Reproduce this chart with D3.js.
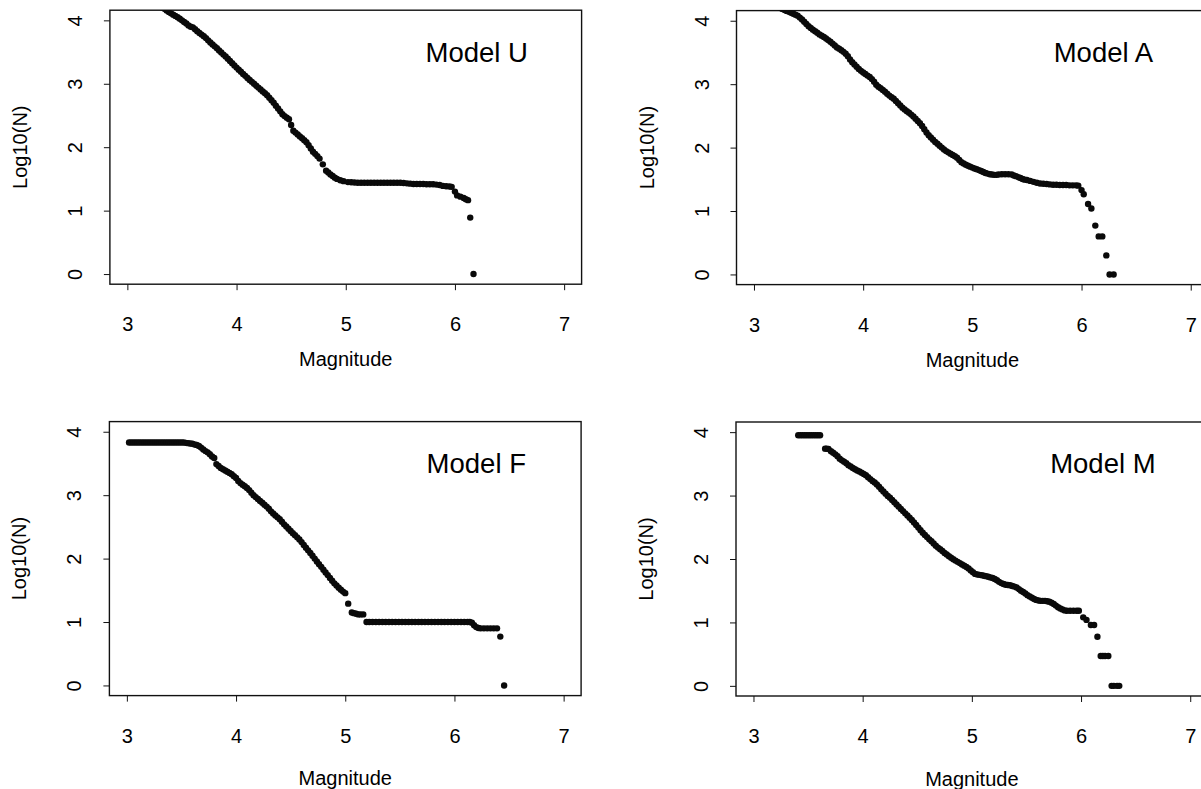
<!DOCTYPE html>
<html>
<head>
<meta charset="utf-8">
<script src="https://cdn.jsdelivr.net/npm/d3@7"></script>
<style>
  body { margin: 0; background: #fff; }
  svg { display: block; font-family: "Liberation Sans", Arial, Helvetica, sans-serif; }
</style>
</head>
<body>
<div id="chart"></div>
<script>
// values (magnitude, log10 of cumulative count)
const magU = [3.30,3.32,3.34,3.36,3.38,3.40,3.42,3.44,3.46,3.48,3.50,3.52,3.54,3.56,3.58,3.60,3.62,3.64,3.66,3.68,
  3.70,3.72,3.74,3.76,3.78,3.80,3.82,3.84,3.86,3.88,3.90,3.92,3.94,3.96,3.98,4.00,4.02,4.04,4.06,4.08,
  4.10,4.12,4.14,4.16,4.18,4.20,4.22,4.24,4.26,4.28,4.30,4.32,4.34,4.36,4.38,4.40,4.42,4.44,4.46,4.48,
  4.50,4.52,4.54,4.56,4.58,4.60,4.62,4.64,4.66,4.68,4.70,4.72,4.74,4.76,4.79,4.82,4.84,4.86,4.88,4.90,
  4.92,4.95,4.98,5.02,5.05,5.08,5.11,5.14,5.17,5.20,5.23,5.26,5.29,5.32,5.35,5.38,5.41,5.44,5.47,5.50,
  5.53,5.56,5.59,5.62,5.65,5.68,5.71,5.74,5.77,5.80,5.83,5.86,5.89,5.92,5.95,5.97,6.00,6.02,6.05,6.08,
  6.10,6.12,6.14,6.17];
const logU = [4.22,4.20,4.18,4.155,4.13,4.11,4.09,4.07,4.05,4.025,4.00,3.975,3.95,3.92,3.90,3.89,3.86,3.83,3.80,3.775,
  3.75,3.72,3.685,3.65,3.62,3.59,3.56,3.525,3.495,3.46,3.43,3.395,3.36,3.325,3.29,3.255,3.22,3.19,3.155,3.125,
  3.09,3.06,3.03,3.00,2.97,2.94,2.91,2.88,2.85,2.82,2.78,2.74,2.70,2.655,2.61,2.565,2.52,2.49,2.465,2.44,
  2.35,2.26,2.23,2.20,2.17,2.14,2.11,2.08,2.03,1.98,1.93,1.895,1.86,1.82,1.73,1.63,1.60,1.57,1.545,1.52,
  1.50,1.48,1.465,1.45,1.447,1.443,1.44,1.44,1.44,1.44,1.44,1.44,1.44,1.44,1.44,1.44,1.44,1.44,1.44,1.44,
  1.435,1.43,1.425,1.42,1.42,1.42,1.42,1.415,1.415,1.415,1.41,1.405,1.39,1.385,1.38,1.375,1.30,1.24,1.22,1.20,
  1.18,1.165,0.89,0.00];

const magA = [3.22,3.24,3.26,3.28,3.30,3.32,3.34,3.36,3.38,3.40,3.42,3.44,3.46,3.48,3.50,3.52,3.54,3.56,3.58,3.60,
  3.62,3.64,3.66,3.68,3.70,3.72,3.74,3.76,3.78,3.80,3.82,3.84,3.86,3.88,3.90,3.92,3.94,3.96,3.98,4.00,
  4.02,4.04,4.06,4.08,4.10,4.12,4.14,4.16,4.18,4.20,4.22,4.24,4.26,4.28,4.30,4.32,4.34,4.36,4.38,4.40,
  4.42,4.44,4.46,4.48,4.50,4.52,4.54,4.56,4.58,4.60,4.62,4.64,4.66,4.68,4.70,4.72,4.74,4.76,4.78,4.80,
  4.82,4.84,4.86,4.88,4.90,4.92,4.94,4.96,4.98,5.00,5.02,5.04,5.06,5.08,5.10,5.12,5.14,5.16,5.18,5.20,
  5.22,5.24,5.27,5.30,5.33,5.36,5.38,5.40,5.42,5.44,5.46,5.48,5.50,5.53,5.56,5.59,5.62,5.65,5.68,5.71,
  5.74,5.77,5.80,5.83,5.86,5.89,5.92,5.95,5.97,6.00,6.02,6.06,6.09,6.126,6.157,6.19,6.227,6.257,6.294];
const logA = [4.22,4.20,4.185,4.17,4.155,4.14,4.125,4.11,4.095,4.08,4.05,4.02,3.985,3.95,3.915,3.885,3.86,3.835,3.81,3.785,
  3.765,3.745,3.72,3.695,3.67,3.64,3.61,3.58,3.56,3.535,3.51,3.48,3.44,3.39,3.345,3.31,3.275,3.24,3.21,3.185,
  3.16,3.135,3.115,3.08,3.04,2.99,2.96,2.935,2.91,2.88,2.85,2.82,2.795,2.77,2.735,2.70,2.665,2.63,2.60,2.575,
  2.55,2.52,2.49,2.455,2.42,2.385,2.34,2.29,2.24,2.195,2.16,2.125,2.09,2.06,2.03,2.00,1.97,1.945,1.925,1.905,
  1.885,1.865,1.84,1.805,1.77,1.75,1.73,1.715,1.70,1.685,1.67,1.66,1.645,1.63,1.615,1.60,1.59,1.58,1.575,1.57,
  1.57,1.575,1.58,1.58,1.58,1.575,1.56,1.55,1.535,1.52,1.505,1.495,1.49,1.475,1.46,1.445,1.435,1.43,1.425,1.42,
  1.415,1.415,1.41,1.41,1.41,1.405,1.405,1.405,1.40,1.33,1.265,1.11,1.04,0.77,0.60,0.60,0.30,0.00,0.00];

const magF = [3.02,3.04,3.06,3.08,3.10,3.12,3.14,3.16,3.18,3.20,3.22,3.24,3.26,3.28,3.30,3.32,3.34,3.36,3.38,3.40,
  3.42,3.44,3.46,3.48,3.50,3.52,3.54,3.56,3.58,3.60,3.62,3.64,3.66,3.68,3.70,3.72,3.74,3.76,3.78,3.80,
  3.82,3.84,3.86,3.88,3.90,3.92,3.94,3.96,3.98,4.00,4.02,4.04,4.06,4.08,4.10,4.12,4.14,4.16,4.18,4.20,
  4.22,4.24,4.26,4.28,4.30,4.32,4.34,4.36,4.38,4.40,4.42,4.44,4.46,4.48,4.50,4.52,4.54,4.56,4.58,4.60,
  4.62,4.64,4.66,4.68,4.70,4.72,4.74,4.76,4.78,4.80,4.82,4.84,4.86,4.88,4.90,4.92,4.94,4.96,4.98,5.00,
  5.027,5.06,5.08,5.10,5.12,5.14,5.165,5.195,5.22,5.25,5.28,5.31,5.34,5.37,5.40,5.43,5.46,5.49,5.52,5.55,
  5.58,5.61,5.64,5.67,5.70,5.73,5.76,5.79,5.82,5.85,5.88,5.91,5.94,5.97,6.00,6.03,6.06,6.09,6.12,6.14,
  6.16,6.18,6.20,6.22,6.24,6.27,6.30,6.33,6.36,6.39,6.42,6.455];
const logF = [3.83,3.83,3.83,3.83,3.83,3.83,3.83,3.83,3.83,3.83,3.83,3.83,3.83,3.83,3.83,3.83,3.83,3.83,3.83,3.83,
  3.83,3.83,3.83,3.83,3.83,3.83,3.825,3.82,3.815,3.81,3.80,3.79,3.775,3.75,3.72,3.695,3.675,3.645,3.61,3.585,
  3.49,3.46,3.43,3.41,3.39,3.37,3.35,3.33,3.30,3.27,3.225,3.19,3.165,3.14,3.115,3.08,3.04,3.00,2.97,2.94,
  2.91,2.88,2.85,2.82,2.785,2.745,2.71,2.68,2.65,2.62,2.58,2.54,2.505,2.47,2.435,2.40,2.37,2.335,2.30,2.26,
  2.215,2.17,2.13,2.09,2.045,2.00,1.955,1.91,1.87,1.825,1.78,1.74,1.695,1.65,1.61,1.575,1.54,1.51,1.48,1.455,
  1.29,1.15,1.14,1.13,1.12,1.12,1.12,1.00,1.00,1.00,1.00,1.00,1.00,1.00,1.00,1.00,1.00,1.00,1.00,1.00,
  1.00,1.00,1.00,1.00,1.00,1.00,1.00,1.00,1.00,1.00,1.00,1.00,1.00,1.00,1.00,1.00,1.00,1.00,1.00,1.00,
  0.99,0.95,0.92,0.905,0.90,0.90,0.90,0.90,0.90,0.90,0.77,0.00];

const magM = [3.41,3.43,3.45,3.47,3.49,3.51,3.53,3.55,3.57,3.59,3.61,3.656,3.67,3.687,3.71,3.73,3.75,3.77,3.79,3.81,
  3.83,3.85,3.87,3.89,3.91,3.93,3.95,3.97,3.99,4.01,4.03,4.05,4.07,4.09,4.11,4.13,4.15,4.17,4.19,4.21,
  4.23,4.25,4.27,4.29,4.31,4.33,4.35,4.37,4.39,4.41,4.43,4.45,4.47,4.49,4.51,4.53,4.55,4.57,4.59,4.61,
  4.63,4.65,4.67,4.69,4.71,4.73,4.75,4.77,4.79,4.81,4.83,4.85,4.87,4.89,4.91,4.93,4.95,4.97,4.99,5.01,
  5.03,5.05,5.07,5.09,5.11,5.13,5.15,5.17,5.19,5.21,5.23,5.25,5.27,5.29,5.31,5.33,5.35,5.37,5.39,5.41,
  5.43,5.45,5.47,5.49,5.51,5.53,5.55,5.57,5.59,5.61,5.63,5.65,5.67,5.69,5.71,5.73,5.75,5.77,5.79,5.81,
  5.83,5.85,5.87,5.90,5.93,5.96,5.98,6.02,6.05,6.09,6.12,6.15,6.18,6.20,6.22,6.25,6.28,6.30,6.33,6.35];
const logM = [3.95,3.95,3.95,3.95,3.95,3.95,3.95,3.95,3.95,3.95,3.95,3.74,3.74,3.735,3.70,3.675,3.65,3.62,3.58,3.555,
  3.535,3.51,3.48,3.46,3.435,3.415,3.395,3.38,3.36,3.34,3.32,3.29,3.26,3.23,3.205,3.175,3.14,3.10,3.065,3.03,
  2.995,2.965,2.93,2.895,2.86,2.825,2.79,2.755,2.72,2.685,2.65,2.615,2.575,2.535,2.495,2.455,2.415,2.38,2.345,2.31,
  2.28,2.245,2.21,2.18,2.155,2.125,2.095,2.07,2.045,2.02,1.995,1.975,1.955,1.935,1.915,1.895,1.875,1.85,1.82,1.79,
  1.765,1.755,1.75,1.745,1.735,1.73,1.72,1.71,1.70,1.685,1.665,1.64,1.62,1.605,1.595,1.59,1.585,1.575,1.565,1.55,
  1.525,1.50,1.48,1.455,1.43,1.41,1.39,1.37,1.355,1.345,1.34,1.34,1.34,1.335,1.325,1.31,1.29,1.265,1.24,1.22,
  1.205,1.19,1.185,1.185,1.185,1.185,1.185,1.08,1.04,0.96,0.96,0.775,0.47,0.47,0.47,0.47,0.00,0.00,0.00,0.00];

const modelNames = ['Model U', 'Model A', 'Model F', 'Model M'];
const xTicks = [3, 4, 5, 6, 7];
const yTicks = [0, 1, 2, 3, 4];
const xLabel = 'Magnitude';
const yLabel = 'Log10(N)';

// plot region size (R style: axis range padded 4% each side)
const W = 471.7, H = 274;
const panels = [
  { name: modelNames[0], mag: magU, logN: logU, left: 109.9, top: 10.2, xlabY: 82 },
  { name: modelNames[1], mag: magA, logN: logA, left: 736.5, top: 10.6, xlabY: 82 },
  { name: modelNames[2], mag: magF, logN: logF, left: 109.4, top: 421.6, xlabY: 89.5 },
  { name: modelNames[3], mag: magM, logN: logM, left: 736.0, top: 422.0, xlabY: 89.5 }
];

const svg = d3.select('#chart').append('svg')
  .attr('width', 1201)
  .attr('height', 789);

const xScale = d3.scaleLinear().domain([2.84, 7.16]).range([0, W]);
const yScale = d3.scaleLinear().domain([-0.16, 4.16]).range([H, 0]);

panels.forEach((p, i) => {
  const g = svg.append('g').attr('transform', `translate(${p.left},${p.top})`);

  g.append('clipPath').attr('id', 'clip' + i)
    .append('rect').attr('width', W).attr('height', H);

  //x axis
  const xa = g.append('g')
    .attr('transform', `translate(0,${H})`)
    .call(d3.axisBottom(xScale).tickValues(xTicks).tickSize(6).tickFormat(d3.format('d')));
  xa.select('.domain').remove();
  xa.selectAll('line').attr('stroke', '#111');
  xa.selectAll('text')
    .attr('y', 47).attr('dy', null)
    .attr('fill', '#000')
    .style('font-size', '20px')
    .style('font-family', '"Liberation Sans", Arial, sans-serif');

  //y axis, labels parallel to the axis like R
  const ya = g.append('g')
    .call(d3.axisLeft(yScale).tickValues(yTicks).tickSize(6).tickFormat(d3.format('d')));
  ya.select('.domain').remove();
  ya.selectAll('line').attr('stroke', '#111');
  ya.selectAll('text')
    .attr('x', null).attr('dy', null)
    .attr('transform', 'translate(-28,0) rotate(-90)')
    .attr('text-anchor', 'middle')
    .attr('fill', '#000')
    .style('font-size', '20px')
    .style('font-family', '"Liberation Sans", Arial, sans-serif');

  //box
  g.append('rect')
    .attr('width', W).attr('height', H)
    .attr('fill', 'none')
    .attr('stroke', '#111')
    .attr('stroke-width', 1.4);

  //points
  g.append('g').attr('clip-path', `url(#clip${i})`)
    .selectAll('circle')
    .data(p.mag.map((m, k) => ({ m: m, n: p.logN[k] })))
    .join('circle')
    .attr('cx', d => xScale(d.m))
    .attr('cy', d => yScale(d.n))
    .attr('r', 3.2)
    .attr('fill', '#0a0a0a');

  //axis titles
  g.append('text')
    .attr('x', W / 2)
    .attr('y', H + p.xlabY)
    .attr('text-anchor', 'middle')
    .style('font-size', '20px')
    .attr('fill', '#000')
    .text(xLabel);

  g.append('text')
    .attr('transform', `translate(-83,${H / 2}) rotate(-90)`)
    .attr('text-anchor', 'middle')
    .style('font-size', '20px')
    .attr('fill', '#000')
    .text(yLabel);

  //model name
  g.append('text')
    .attr('x', xScale(6.2))
    .attr('y', yScale(3.5))
    .attr('dy', '0.35em')
    .attr('text-anchor', 'middle')
    .style('font-size', '27.5px')
    .attr('fill', '#000')
    .text(p.name);
});
</script>
</body>
</html>
